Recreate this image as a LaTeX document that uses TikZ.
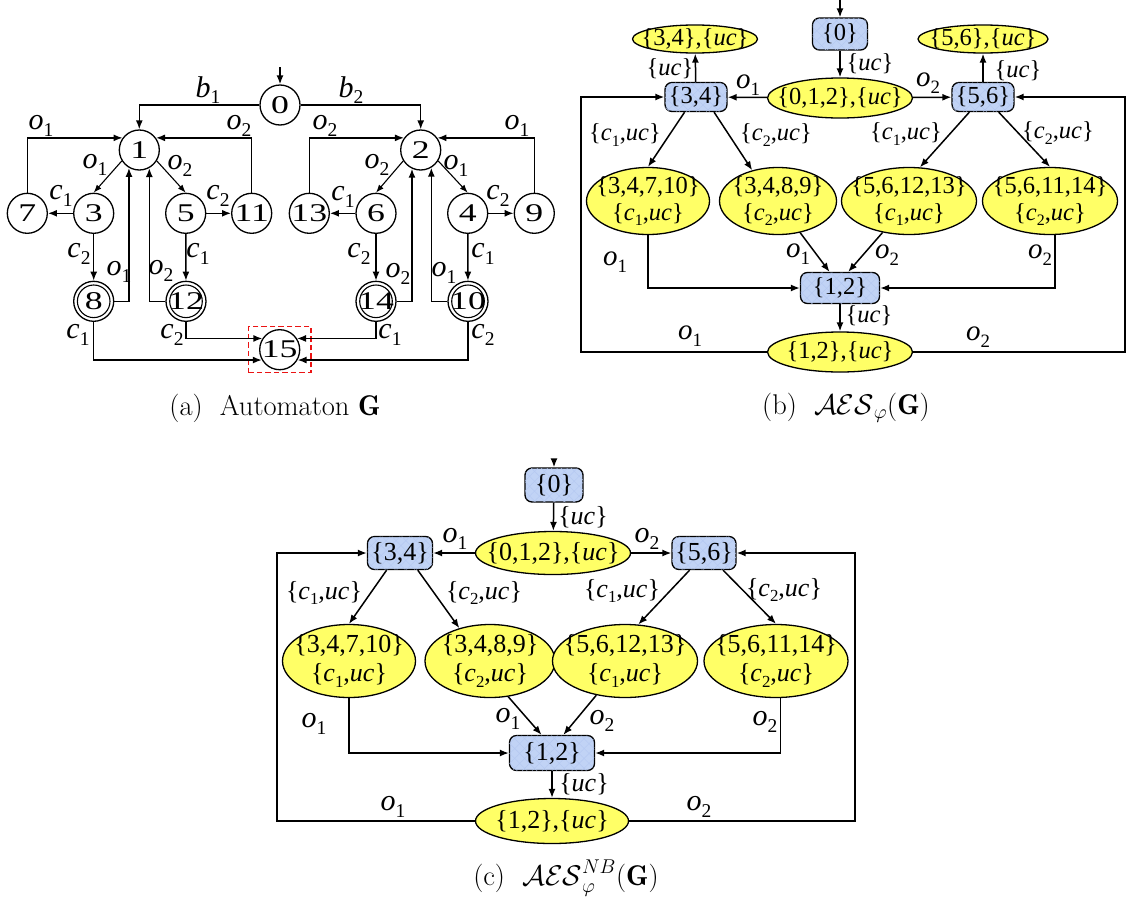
\RequirePackage{fix-cm}
\documentclass[tikz,border=0pt]{standalone}
\usepackage{fontspec}
\usepackage{graphicx}
\newfontfamily\tnr{Liberation Serif}
\usetikzlibrary{arrows.meta,shapes.geometric,patterns.meta}
\definecolor{yelc}{RGB}{255,255,102}
\definecolor{bluc}{RGB}{193,211,245}
\definecolor{hatc}{RGB}{180,199,241}
\definecolor{redc}{RGB}{235,20,20}
\newcommand\sbs[2]{\textit{#1}\raisebox{-0.22em}{\scalebox{0.65}{#2}}}
\newcommand\sx[1]{\scalebox{1.4}[1]{#1}}
\newcommand\fntA{\tnr\fontsize{25.5}{30}\selectfont}
\newcommand\fntAl{\tnr\fontsize{30}{32}\selectfont}
\newcommand\fntB{\tnr\fontsize{24.5}{27.5}\selectfont}
\newcommand\fntBl{\tnr\fontsize{29}{31}\selectfont}
\newcommand\fntC{\tnr\fontsize{26}{29}\selectfont}
\newcommand\fntCl{\tnr\fontsize{30}{32}\selectfont}
\tikzset{
  ln/.style={line width=1.5pt, -{Latex[length=9pt,width=7pt]}},
  lnd/.style={line width=1.1pt, -{Latex[length=8pt,width=6pt]}},
  st/.style={circle, draw, line width=1.3pt, minimum size=40pt, inner sep=0pt, font=\fntA},
  redbox/.style={draw=redc, dash pattern=on 5.5pt off 3pt, line width=1.3pt, minimum width=62.7pt, minimum height=46pt, inner sep=0pt},
  la/.style={font=\fntAl, inner sep=0pt},
  lbB/.style={font=\fntB, inner sep=0pt},
  lbBo/.style={font=\fntBl, inner sep=0pt},
  lbC/.style={font=\fntC, inner sep=0pt},
  lbCo/.style={font=\fntCl, inner sep=0pt},
  yel/.style={ellipse, draw, fill=yelc, line width=1.3pt, inner sep=0pt},
  blu/.style={rectangle, rounded corners=7pt, draw, fill=bluc, line width=1.3pt, inner sep=0pt,
    postaction={pattern={Lines[angle=45,distance=7pt,line width=0.4pt]}, pattern color=hatc},
    postaction={pattern={Lines[angle=-45,distance=7pt,line width=0.4pt]}, pattern color=hatc}},
  tB/.style={font=\fntB, align=center, inner sep=0pt},
  tC/.style={font=\fntC, align=center, inner sep=0pt},
  captext/.style={font=\fontsize{28.5}{32}\selectfont, inner sep=0pt}
}
\begin{document}
\begin{tikzpicture}[x=1pt,y=-1pt]
\useasboundingbox (0,0) rectangle (1126,897);
% ================= (a) =================
\node[st] (n0) at (280,105) {\sx{0}};
\node[st] (n1) at (139.3,150) {\sx{1}};
\node[st] (n2) at (420.7,150) {\sx{2}};
\node[st] (n7) at (27.3,213.3) {\sx{7}};
\node[st] (n3) at (93.7,213.3) {\sx{3}};
\node[st] (n5) at (185.7,213.3) {\sx{5}};
\node[st] (n11) at (251.7,213.3) {\sx{11}};
\node[st] (n13) at (309.3,213.3) {\sx{13}};
\node[st] (n6) at (376,213.3) {\sx{6}};
\node[st] (n4) at (467.7,213.3) {\sx{4}};
\node[st] (n9) at (534.3,213.3) {\sx{9}};
\node[st] (n8) at (93.7,301.3) {\sx{8}};
\node[st] (n12) at (186,301.3) {\sx{12}};
\node[st] (n14) at (376,301.3) {\sx{14}};
\node[st] (n10) at (468,301.3) {\sx{10}};
\node[st] (n15) at (279.7,349.7) {\sx{15}};
\foreach \n in {n8,n12,n14,n10} \draw[line width=1.1pt] (\n.center) circle[radius=16.3pt];
\node[redbox] (box15) at (n15) {};
\coordinate (ia) at (280,67);
\draw[ln] (ia) -- (n0.north);
\draw[ln] (n0.west) -| (n1.north) node[la] at (208,90) {\sbs{b}{1}};
\draw[ln] (n0.east) -| (n2.north) node[la] at (351,90) {\sbs{b}{2}};
\draw[ln] (n7.north) |- (n1.144) node[la] at (41,126) {\sbs{o}{1}};
\draw[ln] (n11.north) |- (n1.36) node[la] at (239,126) {\sbs{o}{2}};
\draw[ln] (n13.north) |- (n2.144) node[la] at (325,126) {\sbs{o}{2}};
\draw[ln] (n9.north) |- (n2.36) node[la] at (517,126) {\sbs{o}{1}};
\draw[lnd] (n1.-148) -- (n3.north) node[la] at (95,165) {\sbs{o}{1}};
\draw[lnd] (n1.-32) -- (n5.north) node[la] at (180,166) {\sbs{o}{2}};
\draw[lnd] (n2.-148) -- (n6.north) node[la] at (377,165) {\sbs{o}{2}};
\draw[lnd] (n2.-32) -- (n4.north) node[la] at (456,166) {\sbs{o}{1}};
\draw[ln] (n3) -- (n7) node[la] at (61,196) {\sbs{c}{1}};
\draw[ln] (n5) -- (n11) node[la] at (218,196) {\sbs{c}{2}};
\draw[ln] (n6) -- (n13) node[la] at (343,197) {\sbs{c}{1}};
\draw[ln] (n4) -- (n9) node[la] at (498,196) {\sbs{c}{2}};
\draw[ln] (n3) -- (n8) node[la] at (79,254) {\sbs{c}{2}};
\draw[ln] (n5) -- (n12) node[la] at (198,254) {\sbs{c}{1}};
\draw[ln] (n6) -- (n14) node[la] at (359,254) {\sbs{c}{2}};
\draw[ln] (n4) -- (n10) node[la] at (483,254) {\sbs{c}{1}};
\draw[ln] (n8.east) -| (n1.-120) node[la] at (119,272) {\sbs{o}{1}};
\draw[ln] (n12.west) -| (n1.-61) node[la] at (161,271) {\sbs{o}{2}};
\draw[ln] (n14.east) -| (n2.-115) node[la] at (398,274) {\sbs{o}{2}};
\draw[ln] (n10.west) -| (n2.-59) node[la] at (444,273) {\sbs{o}{1}};
\draw[ln] (n8.south) |- (n15.-150) node[la] at (78,335) {\sbs{c}{1}};
\draw[ln] (n12.south) |- (n15.147) node[la] at (172,335) {\sbs{c}{2}};
\draw[ln] (n14.south) |- (n15.33) node[la] at (390,335) {\sbs{c}{1}};
\draw[ln] (n10.south) |- (n15.-30) node[la] at (483,335) {\sbs{c}{2}};
\node[captext] (capa) at (275,408) {(a)\ \ Automaton $\mathbf{G}$};
% ================= (b) =================
\node[blu, minimum width=55pt, minimum height=32pt, label={[tB]center:\{0\}}] (B0) at (840,34) {};
\node[yel, minimum width=145pt, minimum height=40pt, label={[tB]center:\{0,1,2\},\{\textit{uc}\}}] (B012) at (840,98) {};
\node[blu, minimum width=62pt, minimum height=29pt, label={[tB]center:\{3,4\}}] (B34) at (696,97) {};
\node[blu, minimum width=62pt, minimum height=29pt, label={[tB]center:\{5,6\}}] (B56) at (983,97) {};
\node[yel, minimum width=125pt, minimum height=28pt, label={[tB]center:\{3,4\},\{\textit{uc}\}}] (B34u) at (695,39) {};
\node[yel, minimum width=130pt, minimum height=28pt, label={[tB]center:\{5,6\},\{\textit{uc}\}}] (B56u) at (983,39) {};
\node[yel, minimum width=123pt, minimum height=67pt, label={[tB]center:\{3,4,7,10\}\\\{\sbs{c}{1},\textit{uc}\}}] (B3) at (648,201) {};
\node[yel, minimum width=117pt, minimum height=67pt, label={[tB]center:\{3,4,8,9\}\\\{\sbs{c}{2},\textit{uc}\}}] (B4) at (778,201) {};
\node[yel, minimum width=135pt, minimum height=67pt, label={[tB]center:\{5,6,12,13\}\\\{\sbs{c}{1},\textit{uc}\}}] (B5) at (909,201) {};
\node[yel, minimum width=135pt, minimum height=67pt, label={[tB]center:\{5,6,11,14\}\\\{\sbs{c}{2},\textit{uc}\}}] (B6) at (1050,201) {};
\node[blu, minimum width=79pt, minimum height=31pt, label={[tB]center:\{1,2\}}] (B12) at (840,288) {};
\node[yel, minimum width=145pt, minimum height=40pt, label={[tB]center:\{1,2\},\{\textit{uc}\}}] (B12u) at (840,352) {};
\coordinate (ib) at (840,0);
\coordinate (bL) at (581,200);
\coordinate (bR) at (1125,200);
\draw[ln] (ib) -- (B0.north);
\draw[ln] (B0) -- (B012) node[lbB] at (870,64) {\{\textit{uc}\}};
\draw[ln] (B012) -- (B34) node[lbBo] at (748,85) {\sbs{o}{1}};
\draw[ln] (B012) -- (B56) node[lbBo] at (928,83) {\sbs{o}{2}};
\draw[ln] (B34) -- (B34u) node[lbB] at (670,69) {\{\textit{uc}\}};
\draw[ln] (B56) -- (B56u) node[lbB] at (1018,71) {\{\textit{uc}\}};
\draw[ln] (B34.-127) -- (B3.north) node[lbB] at (625,135) {\{\sbs{c}{1},\textit{uc}\}};
\draw[ln] (B34.-40) -- (B4.130) node[lbB] at (776,135) {\{\sbs{c}{2},\textit{uc}\}};
\draw[ln] (B56.-132) -- (B5.72) node[lbB] at (906,134) {\{\sbs{c}{1},\textit{uc}\}};
\draw[ln] (B56.-44) -- (B6.north) node[lbB] at (1058,133) {\{\sbs{c}{2},\textit{uc}\}};
\draw[ln] (B3.south) |- (B12.west) node[lbBo] at (615,262) {\sbs{o}{1}};
\draw[ln] (B4.-55) -- (B12.123) node[lbBo] at (798,254) {\sbs{o}{1}};
\draw[ln] (B5.-130) -- (B12.63) node[lbBo] at (887,255) {\sbs{o}{2}};
\draw[ln] (B6.-82) |- (B12.east) node[lbBo] at (1040,255) {\sbs{o}{2}};
\draw[ln] (B12) -- (B12u) node[lbB] at (869,316) {\{\textit{uc}\}};
\draw[ln] (B12u.west) -| (bL) |- (B34.west) node[lbBo] at (690,336) {\sbs{o}{1}};
\draw[ln] (B12u.east) -| (bR) |- (B56.east) node[lbBo] at (978,337) {\sbs{o}{2}};
\node[captext] (capb) at (846,408) {(b)\ \ $\mathcal{AES}_{\varphi}(\mathbf{G})$};
% ================= (c) =================
\node[blu, minimum width=58pt, minimum height=34pt, label={[tC]center:\{0\}}] (C0) at (554,485) {};
\node[yel, minimum width=155pt, minimum height=43pt, label={[tC]center:\{0,1,2\},\{\textit{uc}\}}] (C012) at (553,553) {};
\node[blu, minimum width=65pt, minimum height=33pt, label={[tC]center:\{3,4\}}] (C34) at (400,553) {};
\node[blu, minimum width=64pt, minimum height=33pt, label={[tC]center:\{5,6\}}] (C56) at (704,553) {};
\node[yel, minimum width=133pt, minimum height=73pt, label={[tC]center:\{3,4,7,10\}\\\{\sbs{c}{1},\textit{uc}\}}] (C3) at (349,661) {};
\node[yel, minimum width=130pt, minimum height=73pt, label={[tC]center:\{3,4,8,9\}\\\{\sbs{c}{2},\textit{uc}\}}] (C4) at (490,661) {};
\node[yel, minimum width=145pt, minimum height=73pt, label={[tC]center:\{5,6,12,13\}\\\{\sbs{c}{1},\textit{uc}\}}] (C5) at (625,661) {};
\node[yel, minimum width=144pt, minimum height=73pt, label={[tC]center:\{5,6,11,14\}\\\{\sbs{c}{2},\textit{uc}\}}] (C6) at (776,661) {};
\node[blu, minimum width=85pt, minimum height=35pt, label={[tC]center:\{1,2\}}] (C12) at (552,753) {};
\node[yel, minimum width=153pt, minimum height=45pt, label={[tC]center:\{1,2\},\{\textit{uc}\}}] (C12u) at (552,821) {};
\coordinate (ic) at (554,460);
\coordinate (cL) at (277,700);
\coordinate (cR) at (855,700);
\draw[ln] (ic) -- (C0.north);
\draw[ln] (C0) -- (C012) node[lbC] at (583,517) {\{\textit{uc}\}};
\draw[ln] (C012) -- (C34) node[lbCo] at (455,539) {\sbs{o}{1}};
\draw[ln] (C012) -- (C56) node[lbCo] at (647,539) {\sbs{o}{2}};
\draw[ln] (C34.-128) -- (C3.north) node[lbC] at (324,593) {\{\sbs{c}{1},\textit{uc}\}};
\draw[ln] (C34.-44) -- (C4.133) node[lbC] at (484,593) {\{\sbs{c}{2},\textit{uc}\}};
\draw[ln] (C56.-130) -- (C5.70) node[lbC] at (622,591) {\{\sbs{c}{1},\textit{uc}\}};
\draw[ln] (C56.-42) -- (C6.north) node[lbC] at (784,590) {\{\sbs{c}{2},\textit{uc}\}};
\draw[ln] (C3.south) |- (C12.west) node[lbCo] at (314,724) {\sbs{o}{1}};
\draw[ln] (C4.-63) -- (C12.120) node[lbCo] at (508,719) {\sbs{o}{1}};
\draw[ln] (C5.-130) -- (C12.58) node[lbCo] at (602,721) {\sbs{o}{2}};
\draw[ln] (C6.-83) |- (C12.east) node[lbCo] at (765,722) {\sbs{o}{2}};
\draw[ln] (C12) -- (C12u) node[lbC] at (584,784) {\{\textit{uc}\}};
\draw[ln] (C12u.west) -| (cL) |- (C34.west) node[lbCo] at (393,807) {\sbs{o}{1}};
\draw[ln] (C12u.east) -| (cR) |- (C56.east) node[lbCo] at (699,807) {\sbs{o}{2}};
\node[captext] (capc) at (566,878) {(c)\ \ $\mathcal{AES}^{NB}_{\varphi}(\mathbf{G})$};
\end{tikzpicture}
\end{document}
